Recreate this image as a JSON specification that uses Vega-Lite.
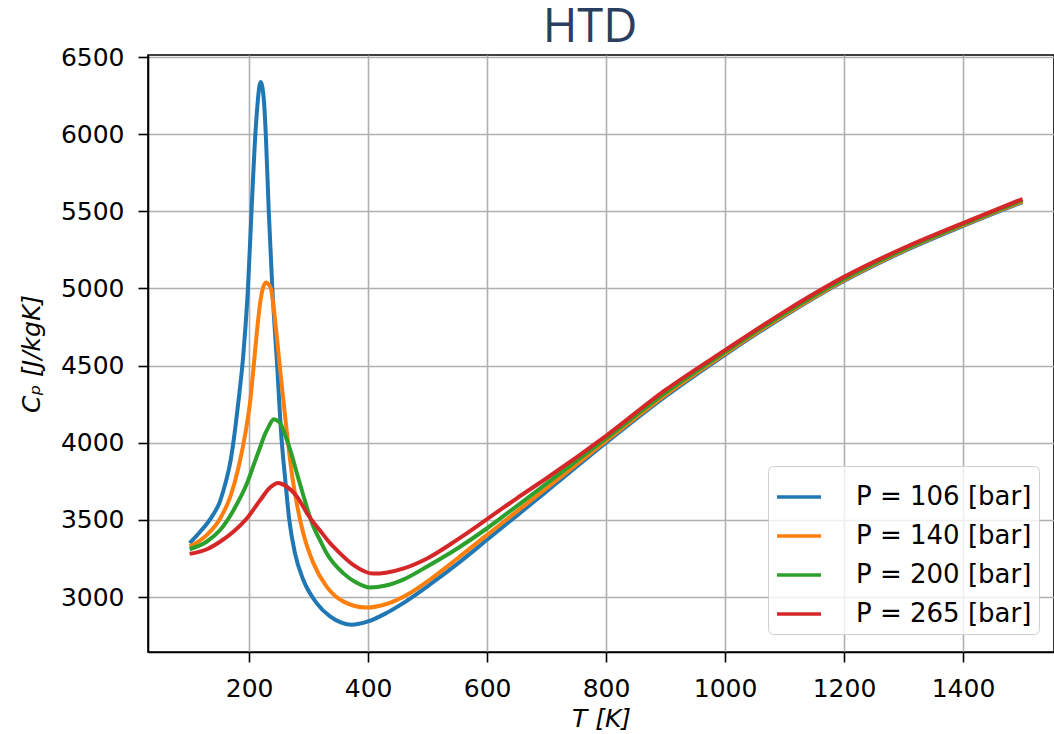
{
  "$schema": "https://vega.github.io/schema/vega-lite/v6.json",
  "width": 906,
  "height": 597,
  "autosize": {"type": "none"},
  "padding": {"left": 148, "top": 55, "right": 0, "bottom": 82},
  "background": "white",
  "title": {"text": "HTD", "font": "Open Sans", "fontSize": 47, "fontWeight": "normal", "color": "#2a3f5f", "anchor": "middle", "offset": -7, "dx": -11},
  "config": {
    "view": {"stroke": "black", "strokeWidth": 1.6},
    "axis": {"grid": true, "gridColor": "#b0b0b0", "gridWidth": 1.6, "domainColor": "black", "domainWidth": 1.6, "tickColor": "black", "tickWidth": 1.6, "tickSize": 10, "labelFont": "DejaVu Sans", "labelFontSize": 25, "labelColor": "black", "titleFont": "DejaVu Sans", "titleFontSize": 25, "titleFontWeight": "normal", "titleFontStyle": "italic", "titleColor": "black"},
    "legend": {"labelFont": "DejaVu Sans", "labelFontSize": 26, "labelColor": "black", "labelLimit": 0}
  },
  "data": {"values": [
    {"P": "P = 106 [bar]", "T": 100, "Cp": 3349}, {"P": "P = 106 [bar]", "T": 118, "Cp": 3425}, {"P": "P = 106 [bar]", "T": 130, "Cp": 3480}, {"P": "P = 106 [bar]", "T": 141, "Cp": 3543}, {"P": "P = 106 [bar]", "T": 150, "Cp": 3610}, {"P": "P = 106 [bar]", "T": 157, "Cp": 3694}, {"P": "P = 106 [bar]", "T": 163, "Cp": 3780}, {"P": "P = 106 [bar]", "T": 169, "Cp": 3888}, {"P": "P = 106 [bar]", "T": 177, "Cp": 4103}, {"P": "P = 106 [bar]", "T": 183, "Cp": 4300}, {"P": "P = 106 [bar]", "T": 187, "Cp": 4440}, {"P": "P = 106 [bar]", "T": 190, "Cp": 4560}, {"P": "P = 106 [bar]", "T": 194, "Cp": 4760}, {"P": "P = 106 [bar]", "T": 198, "Cp": 5000}, {"P": "P = 106 [bar]", "T": 204, "Cp": 5500}, {"P": "P = 106 [bar]", "T": 210.5, "Cp": 6000}, {"P": "P = 106 [bar]", "T": 214, "Cp": 6190}, {"P": "P = 106 [bar]", "T": 217, "Cp": 6305}, {"P": "P = 106 [bar]", "T": 219.7, "Cp": 6338}, {"P": "P = 106 [bar]", "T": 222.5, "Cp": 6300}, {"P": "P = 106 [bar]", "T": 225, "Cp": 6210}, {"P": "P = 106 [bar]", "T": 228, "Cp": 6000}, {"P": "P = 106 [bar]", "T": 233, "Cp": 5500}, {"P": "P = 106 [bar]", "T": 239, "Cp": 5000}, {"P": "P = 106 [bar]", "T": 246.5, "Cp": 4538}, {"P": "P = 106 [bar]", "T": 255, "Cp": 4000}, {"P": "P = 106 [bar]", "T": 260, "Cp": 3790}, {"P": "P = 106 [bar]", "T": 267.5, "Cp": 3500}, {"P": "P = 106 [bar]", "T": 277, "Cp": 3285}, {"P": "P = 106 [bar]", "T": 291, "Cp": 3112}, {"P": "P = 106 [bar]", "T": 313.5, "Cp": 2961}, {"P": "P = 106 [bar]", "T": 336, "Cp": 2875}, {"P": "P = 106 [bar]", "T": 355, "Cp": 2835}, {"P": "P = 106 [bar]", "T": 372, "Cp": 2821}, {"P": "P = 106 [bar]", "T": 400, "Cp": 2842}, {"P": "P = 106 [bar]", "T": 430, "Cp": 2895}, {"P": "P = 106 [bar]", "T": 459, "Cp": 2961}, {"P": "P = 106 [bar]", "T": 503.5, "Cp": 3080}, {"P": "P = 106 [bar]", "T": 550, "Cp": 3215}, {"P": "P = 106 [bar]", "T": 600, "Cp": 3371}, {"P": "P = 106 [bar]", "T": 650, "Cp": 3528}, {"P": "P = 106 [bar]", "T": 700, "Cp": 3685}, {"P": "P = 106 [bar]", "T": 800, "Cp": 4000}, {"P": "P = 106 [bar]", "T": 900, "Cp": 4300}, {"P": "P = 106 [bar]", "T": 1000, "Cp": 4570}, {"P": "P = 106 [bar]", "T": 1100, "Cp": 4822}, {"P": "P = 106 [bar]", "T": 1200, "Cp": 5048}, {"P": "P = 106 [bar]", "T": 1300, "Cp": 5240}, {"P": "P = 106 [bar]", "T": 1400, "Cp": 5405}, {"P": "P = 106 [bar]", "T": 1500, "Cp": 5560},

    {"P": "P = 140 [bar]", "T": 100, "Cp": 3327}, {"P": "P = 140 [bar]", "T": 129, "Cp": 3403}, {"P": "P = 140 [bar]", "T": 151.6, "Cp": 3511}, {"P": "P = 140 [bar]", "T": 168.4, "Cp": 3651}, {"P": "P = 140 [bar]", "T": 182.4, "Cp": 3845}, {"P": "P = 140 [bar]", "T": 193.6, "Cp": 4060}, {"P": "P = 140 [bar]", "T": 202, "Cp": 4276}, {"P": "P = 140 [bar]", "T": 207, "Cp": 4470}, {"P": "P = 140 [bar]", "T": 214, "Cp": 4754}, {"P": "P = 140 [bar]", "T": 219, "Cp": 4920}, {"P": "P = 140 [bar]", "T": 223, "Cp": 5000}, {"P": "P = 140 [bar]", "T": 226, "Cp": 5030}, {"P": "P = 140 [bar]", "T": 229, "Cp": 5039}, {"P": "P = 140 [bar]", "T": 232, "Cp": 5030}, {"P": "P = 140 [bar]", "T": 236.5, "Cp": 5000}, {"P": "P = 140 [bar]", "T": 240.5, "Cp": 4900}, {"P": "P = 140 [bar]", "T": 244.8, "Cp": 4754}, {"P": "P = 140 [bar]", "T": 250.4, "Cp": 4538}, {"P": "P = 140 [bar]", "T": 258, "Cp": 4260}, {"P": "P = 140 [bar]", "T": 265, "Cp": 4013}, {"P": "P = 140 [bar]", "T": 271, "Cp": 3823}, {"P": "P = 140 [bar]", "T": 280, "Cp": 3608}, {"P": "P = 140 [bar]", "T": 291, "Cp": 3414}, {"P": "P = 140 [bar]", "T": 308, "Cp": 3220}, {"P": "P = 140 [bar]", "T": 330, "Cp": 3069}, {"P": "P = 140 [bar]", "T": 358, "Cp": 2972}, {"P": "P = 140 [bar]", "T": 397, "Cp": 2932}, {"P": "P = 140 [bar]", "T": 431, "Cp": 2955}, {"P": "P = 140 [bar]", "T": 470, "Cp": 3025}, {"P": "P = 140 [bar]", "T": 503.5, "Cp": 3112}, {"P": "P = 140 [bar]", "T": 550, "Cp": 3250}, {"P": "P = 140 [bar]", "T": 600, "Cp": 3403}, {"P": "P = 140 [bar]", "T": 650, "Cp": 3555}, {"P": "P = 140 [bar]", "T": 700, "Cp": 3705}, {"P": "P = 140 [bar]", "T": 800, "Cp": 4012}, {"P": "P = 140 [bar]", "T": 900, "Cp": 4310}, {"P": "P = 140 [bar]", "T": 1000, "Cp": 4578}, {"P": "P = 140 [bar]", "T": 1100, "Cp": 4828}, {"P": "P = 140 [bar]", "T": 1200, "Cp": 5054}, {"P": "P = 140 [bar]", "T": 1300, "Cp": 5245}, {"P": "P = 140 [bar]", "T": 1400, "Cp": 5410}, {"P": "P = 140 [bar]", "T": 1500, "Cp": 5565},

    {"P": "P = 200 [bar]", "T": 100, "Cp": 3310}, {"P": "P = 200 [bar]", "T": 129, "Cp": 3360}, {"P": "P = 200 [bar]", "T": 151.6, "Cp": 3436}, {"P": "P = 200 [bar]", "T": 174, "Cp": 3565}, {"P": "P = 200 [bar]", "T": 196.4, "Cp": 3737}, {"P": "P = 200 [bar]", "T": 208, "Cp": 3860}, {"P": "P = 200 [bar]", "T": 218.8, "Cp": 3974}, {"P": "P = 200 [bar]", "T": 226, "Cp": 4050}, {"P": "P = 200 [bar]", "T": 232.8, "Cp": 4103}, {"P": "P = 200 [bar]", "T": 241.2, "Cp": 4153}, {"P": "P = 200 [bar]", "T": 247, "Cp": 4145}, {"P": "P = 200 [bar]", "T": 252.4, "Cp": 4125}, {"P": "P = 200 [bar]", "T": 263.6, "Cp": 4017}, {"P": "P = 200 [bar]", "T": 271, "Cp": 3930}, {"P": "P = 200 [bar]", "T": 280.4, "Cp": 3800}, {"P": "P = 200 [bar]", "T": 291, "Cp": 3660}, {"P": "P = 200 [bar]", "T": 303, "Cp": 3510}, {"P": "P = 200 [bar]", "T": 308, "Cp": 3457}, {"P": "P = 200 [bar]", "T": 319, "Cp": 3370}, {"P": "P = 200 [bar]", "T": 330, "Cp": 3285}, {"P": "P = 200 [bar]", "T": 358, "Cp": 3155}, {"P": "P = 200 [bar]", "T": 380, "Cp": 3095}, {"P": "P = 200 [bar]", "T": 403, "Cp": 3062}, {"P": "P = 200 [bar]", "T": 430, "Cp": 3075}, {"P": "P = 200 [bar]", "T": 460, "Cp": 3115}, {"P": "P = 200 [bar]", "T": 500, "Cp": 3200}, {"P": "P = 200 [bar]", "T": 550, "Cp": 3315}, {"P": "P = 200 [bar]", "T": 600, "Cp": 3446}, {"P": "P = 200 [bar]", "T": 650, "Cp": 3590}, {"P": "P = 200 [bar]", "T": 700, "Cp": 3735}, {"P": "P = 200 [bar]", "T": 800, "Cp": 4028}, {"P": "P = 200 [bar]", "T": 900, "Cp": 4325}, {"P": "P = 200 [bar]", "T": 1000, "Cp": 4588}, {"P": "P = 200 [bar]", "T": 1100, "Cp": 4838}, {"P": "P = 200 [bar]", "T": 1200, "Cp": 5062}, {"P": "P = 200 [bar]", "T": 1300, "Cp": 5252}, {"P": "P = 200 [bar]", "T": 1400, "Cp": 5416}, {"P": "P = 200 [bar]", "T": 1500, "Cp": 5572},

    {"P": "P = 265 [bar]", "T": 100, "Cp": 3280}, {"P": "P = 265 [bar]", "T": 129, "Cp": 3310}, {"P": "P = 265 [bar]", "T": 151.6, "Cp": 3360}, {"P": "P = 265 [bar]", "T": 174, "Cp": 3425}, {"P": "P = 265 [bar]", "T": 196.4, "Cp": 3511}, {"P": "P = 265 [bar]", "T": 218.8, "Cp": 3629}, {"P": "P = 265 [bar]", "T": 235.6, "Cp": 3711}, {"P": "P = 265 [bar]", "T": 248.5, "Cp": 3740}, {"P": "P = 265 [bar]", "T": 263.6, "Cp": 3715}, {"P": "P = 265 [bar]", "T": 280.4, "Cp": 3651}, {"P": "P = 265 [bar]", "T": 291, "Cp": 3586}, {"P": "P = 265 [bar]", "T": 297.3, "Cp": 3543}, {"P": "P = 265 [bar]", "T": 319.5, "Cp": 3430}, {"P": "P = 265 [bar]", "T": 336, "Cp": 3350}, {"P": "P = 265 [bar]", "T": 347, "Cp": 3306}, {"P": "P = 265 [bar]", "T": 375, "Cp": 3209}, {"P": "P = 265 [bar]", "T": 408.5, "Cp": 3152}, {"P": "P = 265 [bar]", "T": 430, "Cp": 3158}, {"P": "P = 265 [bar]", "T": 460, "Cp": 3186}, {"P": "P = 265 [bar]", "T": 500, "Cp": 3252}, {"P": "P = 265 [bar]", "T": 550, "Cp": 3372}, {"P": "P = 265 [bar]", "T": 600, "Cp": 3505}, {"P": "P = 265 [bar]", "T": 650, "Cp": 3640}, {"P": "P = 265 [bar]", "T": 700, "Cp": 3770}, {"P": "P = 265 [bar]", "T": 800, "Cp": 4045}, {"P": "P = 265 [bar]", "T": 900, "Cp": 4342}, {"P": "P = 265 [bar]", "T": 1000, "Cp": 4600}, {"P": "P = 265 [bar]", "T": 1100, "Cp": 4850}, {"P": "P = 265 [bar]", "T": 1200, "Cp": 5075}, {"P": "P = 265 [bar]", "T": 1300, "Cp": 5262}, {"P": "P = 265 [bar]", "T": 1400, "Cp": 5424}, {"P": "P = 265 [bar]", "T": 1500, "Cp": 5580}
  ]},
  "mark": {"type": "line", "strokeWidth": 4, "interpolate": "monotone", "clip": true},
  "encoding": {
    "x": {"field": "T", "type": "quantitative", "scale": {"domain": [30, 1553], "nice": false, "zero": false},
      "axis": {"title": "T [K]", "format": "d", "values": [200, 400, 600, 800, 1000, 1200, 1400], "labelPadding": 14, "titlePadding": 5}},
    "y": {"field": "Cp", "type": "quantitative", "scale": {"domain": [2644, 6513], "nice": false, "zero": false},
      "axis": {"title": "Cₚ [J/kgK]", "format": "d", "values": [3000, 3500, 4000, 4500, 5000, 5500, 6000, 6500], "labelPadding": 14, "titlePadding": 16}},
    "color": {"field": "P", "type": "nominal",
      "scale": {"domain": ["P = 106 [bar]", "P = 140 [bar]", "P = 200 [bar]", "P = 265 [bar]"], "range": ["#1f77b4", "#ff7f0e", "#2ca02c", "#d62728"]},
      "legend": {"title": null, "orient": "none", "legendX": 620, "legendY": 411, "symbolType": "stroke", "symbolSize": 1936, "symbolStrokeWidth": 3.5, "labelOffset": 33, "rowPadding": 2, "padding": 7, "strokeColor": "#d0d0d0", "fillColor": "rgba(255,255,255,0.8)", "cornerRadius": 5}}
  }
}
